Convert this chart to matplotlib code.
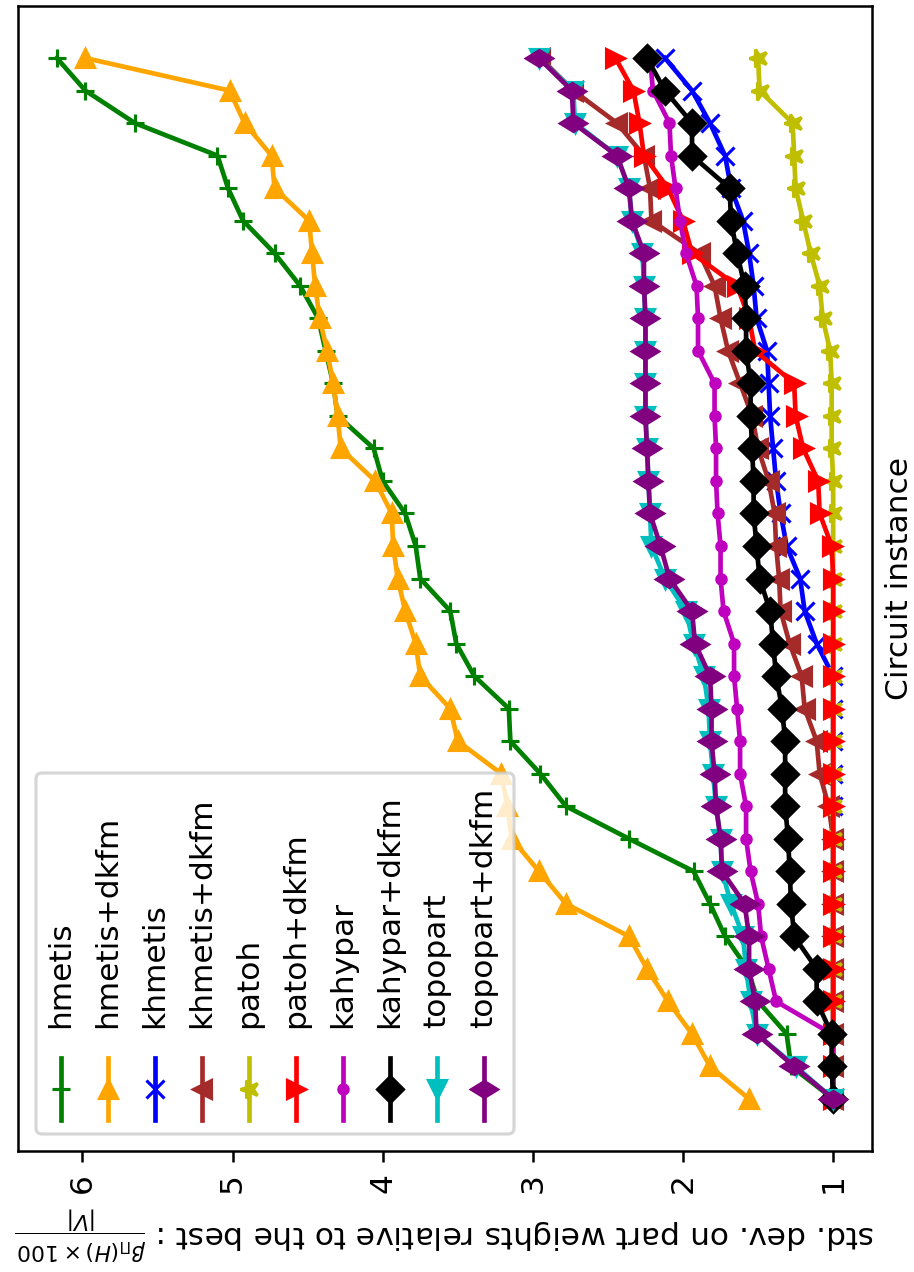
import numpy as np
import matplotlib
matplotlib.use("Agg")
import matplotlib.pyplot as plt
from matplotlib.markers import MarkerStyle
from matplotlib.patches import FancyBboxPatch
from matplotlib.lines import Line2D
from matplotlib.transforms import Affine2D

# valores por instancia (ordenados), una lista por particionador
hmetis = [1.00, 1.28, 1.31, 1.50, 1.57, 1.72, 1.82, 1.93, 2.36, 2.78, 2.95,
          3.15, 3.16, 3.39, 3.51, 3.55, 3.75, 3.78, 3.85, 4.00, 4.06, 4.30,
          4.33, 4.38, 4.43, 4.55, 4.72, 4.93, 5.03, 5.10, 5.65, 5.98, 6.17]
hmetis_dkfm = [1.56, 1.82, 1.94, 2.10, 2.24, 2.36, 2.78, 2.96, 3.14, 3.17, 3.21,
               3.50, 3.55, 3.75, 3.78, 3.85, 3.90, 3.93, 3.94, 4.05, 4.28, 4.30,
               4.33, 4.37, 4.42, 4.45, 4.47, 4.49, 4.72, 4.74, 4.92, 5.02, 5.98]
khmetis = [1.00, 1.00, 1.00, 1.00, 1.00, 1.00, 1.00, 1.00, 1.00, 1.00, 1.00,
           1.00, 1.00, 1.00, 1.11, 1.19, 1.22, 1.31, 1.35, 1.38, 1.40, 1.42,
           1.43, 1.44, 1.51, 1.53, 1.56, 1.60, 1.68, 1.72, 1.82, 1.94, 2.12]
khmetis_dkfm = [1.00, 1.00, 1.00, 1.00, 1.00, 1.00, 1.00, 1.00, 1.00, 1.03, 1.09,
                1.11, 1.19, 1.21, 1.29, 1.35, 1.36, 1.38, 1.39, 1.43, 1.50, 1.54,
                1.62, 1.70, 1.75, 1.79, 1.89, 2.21, 2.22, 2.26, 2.44, 2.73, 2.95]
patoh = [1.00, 1.00, 1.00, 1.00, 1.00, 1.00, 1.00, 1.00, 1.00, 1.00, 1.00,
         1.00, 1.00, 1.00, 1.00, 1.00, 1.00, 1.00, 1.00, 1.00, 1.01, 1.01,
         1.01, 1.02, 1.07, 1.09, 1.15, 1.20, 1.25, 1.26, 1.27, 1.49, 1.50]
patoh_dkfm = [1.00, 1.00, 1.00, 1.00, 1.00, 1.00, 1.00, 1.00, 1.00, 1.00, 1.00,
              1.00, 1.00, 1.00, 1.00, 1.00, 1.00, 1.01, 1.09, 1.10, 1.20, 1.25,
              1.26, 1.52, 1.56, 1.64, 1.94, 2.00, 2.10, 2.26, 2.29, 2.33, 2.45]
kahypar = [1.00, 1.00, 1.01, 1.38, 1.43, 1.48, 1.50, 1.55, 1.58, 1.58, 1.62,
           1.62, 1.64, 1.66, 1.66, 1.73, 1.75, 1.75, 1.77, 1.78, 1.78, 1.79,
           1.79, 1.90, 1.90, 1.91, 1.98, 2.02, 2.05, 2.08, 2.09, 2.20, 2.22]
kahypar_dkfm = [1.00, 1.01, 1.01, 1.11, 1.11, 1.26, 1.28, 1.29, 1.30, 1.32, 1.32,
                1.32, 1.34, 1.38, 1.40, 1.42, 1.49, 1.51, 1.53, 1.53, 1.54, 1.55,
                1.55, 1.58, 1.58, 1.59, 1.64, 1.68, 1.69, 1.94, 1.94, 2.12, 2.24]
topopart = [1.00, 1.25, 1.51, 1.55, 1.58, 1.60, 1.68, 1.74, 1.75, 1.78, 1.80,
            1.82, 1.83, 1.86, 1.93, 1.98, 2.12, 2.21, 2.22, 2.23, 2.24, 2.25,
            2.25, 2.25, 2.25, 2.26, 2.27, 2.34, 2.36, 2.44, 2.72, 2.73, 2.96]
topopart_dkfm = [1.00, 1.26, 1.51, 1.52, 1.56, 1.56, 1.59, 1.74, 1.75, 1.78, 1.79,
                 1.81, 1.81, 1.82, 1.92, 1.94, 2.09, 2.15, 2.22, 2.23, 2.24, 2.25,
                 2.25, 2.25, 2.25, 2.26, 2.26, 2.34, 2.36, 2.44, 2.73, 2.74, 2.96]

nombres = ["hmetis", "hmetis+dkfm", "khmetis", "khmetis+dkfm", "patoh",
           "patoh+dkfm", "kahypar", "kahypar+dkfm", "topopart", "topopart+dkfm"]
series = [hmetis, hmetis_dkfm, khmetis, khmetis_dkfm, patoh,
          patoh_dkfm, kahypar, kahypar_dkfm, topopart, topopart_dkfm]
colores = ["g", "orange", "b", "brown", "y", "r", "m", "k", "c", "purple"]

rot = Affine2D().rotate_deg(90)
marcadores = ["+", "^", "x", "<", MarkerStyle("*", transform=rot), ">", ".", "D", "v",
              MarkerStyle("d", transform=rot)]

W, H = 914, 1272
k = 2.25  # factor de escala de la figura original
plt.rcParams.update({
    "font.size": 10 * k,
    "lines.linewidth": 1.5 * k,
    "lines.markersize": 6 * k,
    "lines.markeredgewidth": 1 * k,
    "axes.linewidth": 0.8 * k,
    "xtick.major.size": 3.5 * k,
    "xtick.major.width": 0.8 * k,
    "xtick.major.pad": 3.5 * k,
    "axes.labelpad": 4 * k,
})

fig = plt.figure(figsize=(W / 100, H / 100), dpi=100)
ax = fig.add_axes([18 / W, 1 - 1151 / H, (872 - 18) / W, (1151 - 6) / H])

for valores, nombre, color, marca in zip(series, nombres, colores, marcadores):
    instancias = np.arange(len(valores))
    ax.plot(valores, instancias, color=color, marker=marca, label=nombre)

ax.invert_xaxis()
ax.set_xticks([1, 2, 3, 4, 5, 6])
ax.tick_params(axis="x", labelrotation=90)
ax.set_yticks([])
ax.set_xlabel(r"std. dev. on part weights relative to the best : $\frac{\beta_{\Pi}(H) \times 100}{|V|}$",
              rotation=180)
ax.yaxis.set_label_position("right")
ax.set_ylabel("Circuit instance")

# leyenda girada, dibujada a mano (coordenadas en pixeles de la imagen)
img = Affine2D().scale(1, -1).translate(0, H)
marco = FancyBboxPatch((36, 773), 478, 361, boxstyle="round,pad=0,rounding_size=6",
                       transform=img, facecolor="white", edgecolor="0.8",
                       linewidth=1 * k, alpha=0.8, zorder=5, clip_on=False)
ax.add_artist(marco)
for j, (nombre, color, marca) in enumerate(zip(nombres, colores, marcadores)):
    xc = 60.7 + 47 * j
    ax.add_artist(Line2D([xc, xc], [1058, 1120], color=color, transform=img,
                         zorder=6, clip_on=False))
    ax.add_artist(Line2D([xc], [1089], color=color, marker=marca, linestyle="none",
                         transform=img, zorder=6, clip_on=False))
    ax.text(xc, 1028, nombre, transform=img, rotation=90, ha="left", va="center",
            rotation_mode="anchor", zorder=7)

fig.savefig("out.png", dpi=100)
